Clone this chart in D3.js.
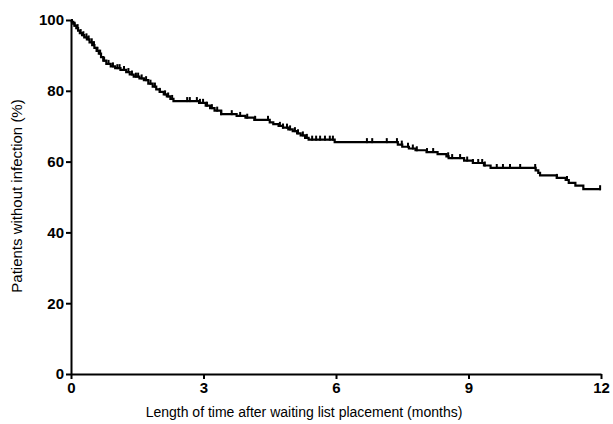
<!DOCTYPE html>
<html lang="en">
<head>
<meta charset="UTF-8">
<title>Infection-free survival</title>
<script src="https://d3js.org/d3.v7.min.js"></script>
<style>
body { margin: 0; background: #fff; }
svg { font-family: "Liberation Sans", Arial, sans-serif; }
.axis path, .axis line { stroke: #000; stroke-width: 2px; }
.axis text { font-weight: bold; font-size: 15px; fill: #000; }
.title { fill: #000; }
</style>
</head>
<body>
<svg width="613" height="424"></svg>
<script>
// event times (months) and survival (%) after each drop
var eventTimes = [0.02, 0.05, 0.08, 0.12, 0.16, 0.20, 0.25, 0.30, 0.36, 0.42, 0.48, 0.53, 0.58, 0.63, 0.68, 0.73, 0.80, 0.90,
  1.00, 1.12, 1.25, 1.33, 1.42, 1.55, 1.65, 1.75, 1.85, 1.93, 2.01, 2.10, 2.17, 2.25, 2.32, 2.90, 3.05, 3.15, 3.25, 3.40,
  3.75, 3.95, 4.15, 4.50, 4.58, 4.70, 4.80, 4.92, 5.02, 5.12, 5.20, 5.30, 5.38, 5.97, 7.40, 7.50, 7.65, 7.80, 8.05, 8.30,
  8.50, 8.55, 8.90, 9.10, 9.35, 9.50, 10.52, 10.58, 10.62, 11.00, 11.20, 11.27, 11.42, 11.60];
var survival = [99.5, 99.0, 98.4, 97.7, 97.0, 96.3, 95.7, 95.1, 94.5, 93.7, 92.9, 92.1, 91.3, 90.5, 89.5, 88.5, 87.6, 86.9,
  86.4, 85.9, 85.3, 84.6, 84.0, 83.5, 83.0, 82.0, 81.2, 80.4, 79.7, 79.0, 78.4, 77.7, 77.1, 76.6, 75.8, 75.1, 74.4, 73.4,
  72.9, 72.4, 71.8, 71.1, 70.6, 70.1, 69.6, 69.1, 68.6, 68.0, 67.4, 66.7, 66.2, 65.5, 64.8, 64.2, 63.7, 63.2, 62.7, 62.1,
  61.5, 61.0, 60.3, 59.6, 58.9, 58.2, 57.5, 56.8, 56.1, 55.4, 54.8, 54.0, 53.2, 52.2];
// censored patients (months)
var censorTimes = [0.08, 0.15, 0.22, 0.28, 0.35, 0.40, 0.47, 0.52, 0.60, 0.66, 0.75, 0.85, 0.95, 1.05, 1.10, 1.20, 1.30,
  1.38, 1.47, 1.52, 1.60, 1.70, 1.80, 1.90, 2.01, 2.13, 2.20, 2.29, 2.63, 2.69, 2.85, 2.92, 2.99, 3.08, 3.19, 3.31,
  3.40, 3.64, 3.83, 3.99, 4.17, 4.46, 4.73, 4.80, 4.89, 4.96, 5.07, 5.14, 5.25, 5.34, 5.46, 5.55, 5.64, 5.75, 5.86, 5.93,
  6.70, 6.82, 7.15, 7.38, 7.49, 7.63, 7.74, 7.83, 8.06, 8.20, 8.54, 8.63, 8.81, 8.97, 9.10, 9.22, 9.31, 9.37,
  9.64, 9.78, 9.94, 10.17, 10.51, 11.00, 11.23, 11.98];
var xTicks = [0, 3, 6, 9, 12];
var yTicks = [0, 20, 40, 60, 80, 100];

var svg = d3.select("svg");
var margin = {left: 71, top: 20, right: 12, bottom: 50};
var w = 613 - margin.left - margin.right, h = 424 - margin.top - margin.bottom;
var g = svg.append("g").attr("transform", "translate(" + margin.left + "," + margin.top + ")");

var x = d3.scaleLinear().domain([0, 12]).range([0, w]);
var y = d3.scaleLinear().domain([0, 100]).range([h, 0]);

g.append("g").attr("class", "axis").attr("transform", "translate(0," + h + ")")
  .call(d3.axisBottom(x).tickValues(xTicks).tickSize(5).tickSizeOuter(0).tickPadding(3));
g.append("g").attr("class", "axis")
  .call(d3.axisLeft(y).tickValues(yTicks).tickSize(5).tickSizeOuter(0).tickPadding(2));

var pts = [{t: 0, s: 100}];
eventTimes.forEach(function(t, i) { pts.push({t: t, s: survival[i]}); });
pts.push({t: 12, s: survival[survival.length - 1]});

var line = d3.line().curve(d3.curveStepAfter)
  .x(function(d) { return x(d.t); }).y(function(d) { return y(d.s); });
g.append("path").datum(pts).attr("d", line)
  .attr("fill", "none").attr("stroke", "#000").attr("stroke-width", 2.2);

function survAt(t) {
  var i = d3.bisectRight(eventTimes, t);
  return i === 0 ? 100 : survival[i - 1];
}
g.selectAll(".cens").data(censorTimes).enter().append("line")
  .attr("x1", function(d) { return x(d); }).attr("x2", function(d) { return x(d); })
  .attr("y1", function(d) { return y(survAt(d)) - 4; })
  .attr("y2", function(d) { return y(survAt(d)) + 1; })
  .attr("stroke", "#000").attr("stroke-width", 2);

svg.append("text").attr("class", "title").attr("text-anchor", "middle")
  .style("font-size", "14px")
  .attr("x", 304).attr("y", 417)
  .text("Length of time after waiting list placement (months)");
svg.append("text").attr("class", "title").attr("text-anchor", "middle")
  .style("font-size", "15px")
  .attr("transform", "translate(22,196) rotate(-90)")
  .text("Patients without infection (%)");
</script>
</body>
</html>
